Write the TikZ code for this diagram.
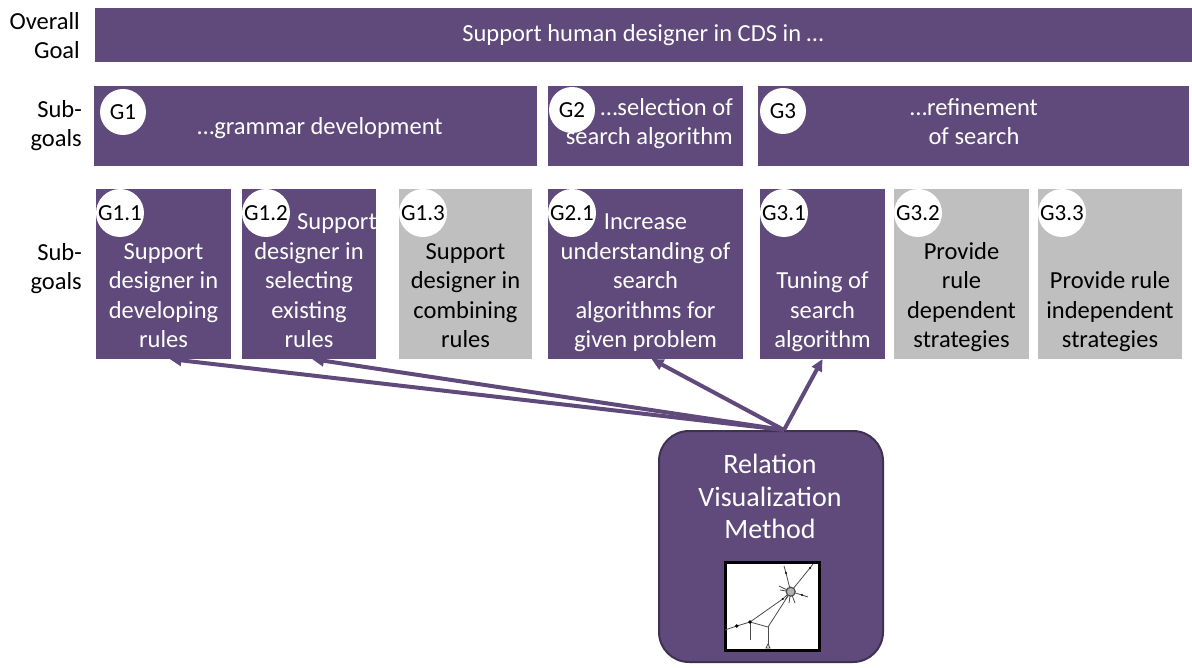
\documentclass[tikz,border=0pt]{standalone}
\usepackage{fontspec}
\setmainfont{Carlito}
\usetikzlibrary{arrows.meta}

\definecolor{goalpurple}{HTML}{604A7B}
\definecolor{goalgrey}{HTML}{BFBFBF}
\definecolor{goalborder}{HTML}{3F3151}

\newcommand{\bodyfont}{\fontsize{24.5}{29.5}\selectfont}
\newcommand{\tagfont}{\fontsize{23}{24}\selectfont}
\newcommand{\methodfont}{\fontsize{28}{32.5}\selectfont}

\tikzset{
  goalbox/.style={fill=goalpurple, anchor=north west, inner sep=0, outer sep=0},
  greybox/.style={goalbox, fill=goalgrey},
  goaltag/.style={circle, fill=white, inner sep=0, minimum size=48, font=\tagfont},
  goaltext/.style={text=white, align=center, inner sep=0, text depth=0pt, anchor=south, font=\bodyfont},
  greytext/.style={goaltext, text=black},
  rowlabel/.style={align=right, inner sep=0, text depth=0pt, anchor=south east, font=\bodyfont},
  supports/.style={draw=goalpurple, line width=4pt, -{Triangle[length=12pt,width=11pt]}},
}

\begin{document}
\begin{tikzpicture}[x=1pt,y=-1pt]
\useasboundingbox (0,0) rectangle (1192,668);

% row labels
\node[rowlabel] (lbl-goal) at (80,59) {Overall\\Goal};
\node[rowlabel] (lbl-sub) at (82,147) {Sub-\\goals};
\node[rowlabel] (lbl-subsub) at (82,290) {Sub-\\goals};

% overall goal
\node[goalbox, minimum width=1097, minimum height=54] (goal) at (95,8) {};
\node[goaltext] (goal-text) at (643,42) {Support human designer in CDS in …};

% sub goals
\node[goalbox, minimum width=443, minimum height=80] (g1) at (94,86) {};
\node[goalbox, minimum width=195, minimum height=80] (g2) at (548,86) {};
\node[goalbox, minimum width=431, minimum height=80] (g3) at (758,86) {};
\node[goaltag, minimum size=46] (g1-tag) at (123,112) {G1};
\node[goaltag, minimum size=46] (g2-tag) at (572,110) {G2};
\node[goaltag, minimum size=46] (g3-tag) at (783,111) {G3};
\node[goaltext] (g1-text) at (320,135) {…grammar development};
\node[goaltext, align=right, anchor=south east] (g2-text) at (733,145) {…selection of\\search algorithm};
\node[goaltext] (g3-text) at (974,145) {…refinement\\of search};

% sub sub goals
\foreach \name/\x/\w/\kind in {g11/96/135/goalbox, g12/242/134/goalbox, g13/399/133/greybox,
    g21/548/195/goalbox, g31/760/125/goalbox, g32/894/135/greybox, g33/1038/144/greybox}
  \node[\kind, minimum width=\w, minimum height=170] (\name) at (\x,189) {};

\foreach \name/\lbl in {g11/G1.1, g12/G1.2, g13/G1.3, g21/G2.1, g31/G3.1, g32/G3.2, g33/G3.3}
  \node[goaltag] (\name-tag) at ([xshift=24pt,yshift=-24pt]\name.north west) {\lbl};

\node[goaltext] (g11-text) at ([yshift=11pt]g11.south) {Support\\designer in\\developing\\rules};
\node[goaltext] (g12-text) at ([yshift=11pt]g12.south) {\hspace*{56pt}Support\\designer in\\selecting\\existing\\rules};
\node[greytext] (g13-text) at ([yshift=11pt]g13.south) {Support\\designer in\\combining\\rules};
\node[goaltext] (g21-text) at ([yshift=11pt]g21.south) {Increase\\understanding of\\search\\algorithms for\\given problem};
\node[goaltext] (g31-text) at ([yshift=11pt]g31.south) {Tuning of\\search\\algorithm};
\node[greytext] (g32-text) at ([yshift=11pt]g32.south) {Provide\\rule\\dependent\\strategies};
\node[greytext] (g33-text) at ([yshift=11pt]g33.south) {Provide rule\\independent\\strategies};

% method
\node[draw=goalborder, line width=2pt, fill=goalpurple, rounded corners=30pt, anchor=north west,
  inner sep=0, minimum width=224, minimum height=231] (method) at (658,430) {};
\node[goaltext, font=\methodfont] (method-text) at (770,539) {Relation\\Visualization\\Method};
\node[draw=black, line width=3pt, fill=white, anchor=north west, inner sep=0,
  minimum width=94, minimum height=88] (thumb) at (723.5,560.5) {};

% small network in the thumbnail
\begin{scope}[draw=black!70, line width=0.8pt]
  \draw (790.7,591.7) -- (782.7,599) -- (750,622) -- (736.7,626) -- (725,630);
  \draw (750,622) -- (750,640);
  \draw (750,622) -- (768,627) -- (790.7,591.7);
  \draw (768,627) -- (768,645);
  \draw (790.7,591.7) -- (810,568) -- (813,564);
  \draw (790.7,591.7) -- (786,573) -- (784,566);
  \draw (790.7,591.7) -- (779,586);
  \draw (790.7,591.7) -- (780,590);
  \draw (790.7,591.7) -- (802,595) -- (808,597);
  \draw (790.7,591.7) -- (789,603);
  \draw (790.7,591.7) -- (795,603);
  \draw (790.7,591.7) -- (785,600);
  \draw (766,648) -- (768,644) -- (770,648) -- cycle;
  \fill[black] (750,622) circle (1.8pt) (736.7,626) circle (1.8pt) (782.7,599) circle (1.2pt)
    (810,568) circle (1.2pt) (786,573) circle (1.2pt) (802,595) circle (1.2pt);
  \draw[fill=gray!60, line width=1.2pt] (790.7,591.7) circle (4.5pt);
\end{scope}

% links from the method to the supported goals
\coordinate (src) at ([xshift=13pt]method.north);
\foreach \goal/\dx in {g11/6, g12/3, g21/6, g31/0}
  \draw[supports] (src) -- ([xshift=\dx pt]\goal.south);

\end{tikzpicture}
\end{document}
